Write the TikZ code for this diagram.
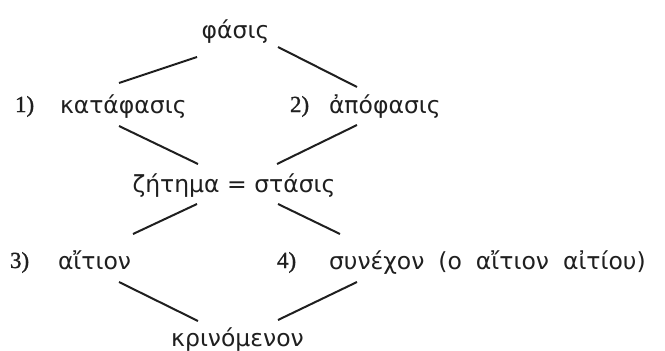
\documentclass[tikz,border=0pt]{standalone}
\usepackage{fontspec}
\setmainfont{DejaVu Sans}
\newfontfamily\numfont[FakeBold=1.2]{Liberation Serif}
\begin{document}
\begin{tikzpicture}[x=1pt,y=-1pt,
  gr/.style={inner sep=0pt,outer sep=0pt,text=black!88,font=\fontsize{23.5}{26}\selectfont},
  num/.style={inner sep=0pt,outer sep=0pt,text=black!88,font=\numfont\fontsize{23}{24}\selectfont},
  ln/.style={line width=2pt,draw=black!88}]
\useasboundingbox (0,0) rectangle (665,351);
% texts
\node[gr,anchor=base] (phasis) at (235.5,38) {φάσις};
\node[num,anchor=base west] (n1) at (15,112) {1)};
\node[gr,anchor=base west] (kata) at (60,113) {κατάφασις};
\node[num,anchor=base west] (n2) at (290,112) {2)};
\node[gr,anchor=base west] (apo) at (329,113) {ἀπόφασις};
\node[gr,anchor=base] (zet) at (234,192) {ζήτημα = στάσις};
\node[num,anchor=base west] (n3) at (10,268) {3)};
\node[gr,anchor=base west] (ait) at (58,269) {αἴτιον};
\node[num,anchor=base west] (n4) at (277,268) {4)};
\node[gr,anchor=base west] (syn) at (329,269) {\spaceskip=14pt plus 2pt\relax συνέχον (ο αἴτιον αἰτίου)};
\node[gr,anchor=base] (krin) at (237.5,346) {κρινόμενον};
% connector ends
\coordinate (p1) at (197,57);  \coordinate (k1) at (119,83);
\coordinate (p2) at (278,47);  \coordinate (a1) at (357,87);
\coordinate (k2) at (119,126); \coordinate (z1) at (198,164);
\coordinate (a2) at (357,125); \coordinate (z2) at (277,164);
\coordinate (z3) at (197,204); \coordinate (t1) at (133,234);
\coordinate (z4) at (278,204); \coordinate (s1) at (340,234);
\coordinate (t2) at (119,282); \coordinate (r1) at (198,321);
\coordinate (s2) at (357,282); \coordinate (r2) at (278,320);
\draw[ln] (p1) -- (k1);
\draw[ln] (p2) -- (a1);
\draw[ln] (k2) -- (z1);
\draw[ln] (a2) -- (z2);
\draw[ln] (z3) -- (t1);
\draw[ln] (z4) -- (s1);
\draw[ln] (t2) -- (r1);
\draw[ln] (s2) -- (r2);
\end{tikzpicture}
\end{document}
